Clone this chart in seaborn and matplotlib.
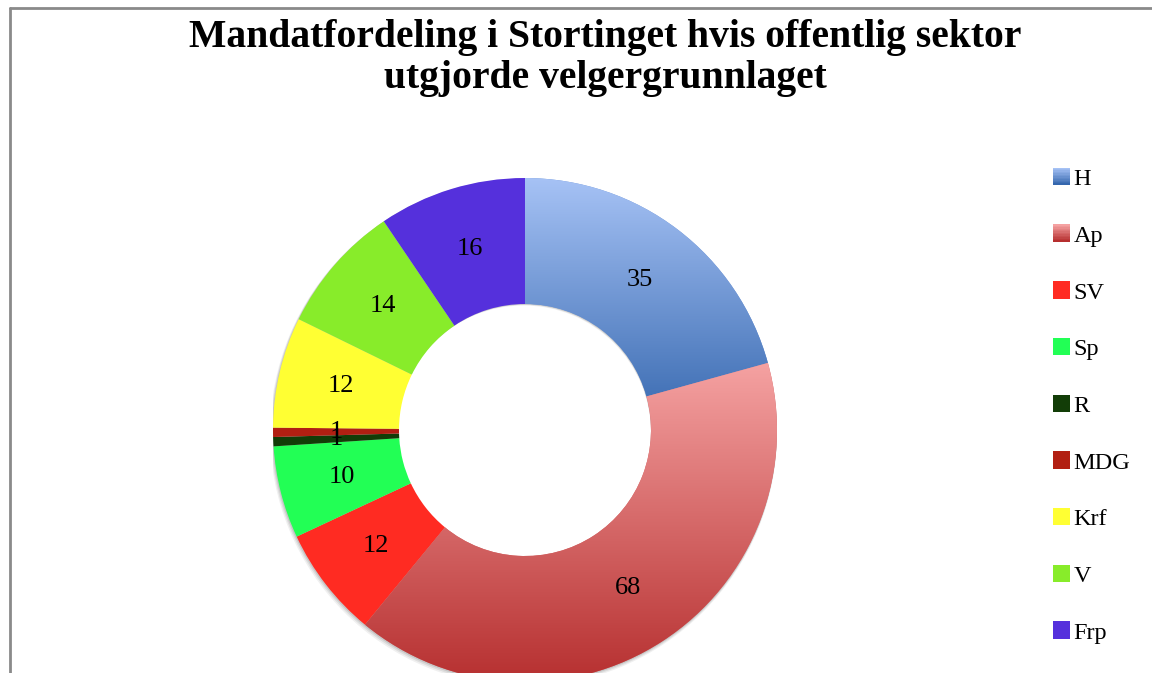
import numpy as np
import matplotlib
matplotlib.use("Agg")
import matplotlib.pyplot as plt
import seaborn as sns
from matplotlib.lines import Line2D
from matplotlib.patches import Rectangle, Wedge
from matplotlib.legend_handler import HandlerBase
from matplotlib.colors import LinearSegmentedColormap, to_rgb

# ---- data ----
parties = ["H", "Ap", "SV", "Sp", "R", "MDG", "Krf", "V", "Frp"]
seats = [35, 68, 12, 10, 1, 1, 12, 14, 16]
colors = ["#6f95d6", "#d66a6a", "#ff2b22", "#22ff55", "#123d07",
          "#b21f12", "#ffff33", "#88ec2a", "#5530dc"]
gradients = {"H": ("#a6c2f5", "#3567ae"), "Ap": ("#f5a2a2", "#b62f2f")}
title_lines = ["Mandatfordeling i Stortinget hvis offentlig sektor",
               "utgjorde velgergrunnlaget"]

sns.set_theme(style="white")
plt.rcParams["font.family"] = ["Liberation Serif", "DejaVu Serif"]
plt.rcParams["text.color"] = "black"

W, H = 1152, 673
fig = plt.figure(figsize=(W / 100, H / 100), dpi=100)
fig.patch.set_facecolor("white")

# pie placement in pixels
cx, cy, R = 525, 430, 252
ax = fig.add_axes([(cx - R) / W, 1 - (cy + R) / H, 2 * R / W, 2 * R / H])

total = sum(seats)
wedges, texts, autotexts = ax.pie(
    seats, colors=colors, startangle=90, counterclock=False,
    wedgeprops=dict(width=0.5, linewidth=0),
    autopct=lambda p: f"{int(round(p * total / 100))}",
    pctdistance=0.75, textprops=dict(fontsize=19, color="black"))
ax.set_xlim(-1, 1)
ax.set_ylim(-1, 1)
ax.set_aspect("equal")
ax.axis("off")

# soft shadow behind the ring
for k, a in enumerate([0.10, 0.08, 0.06]):
    d = 0.004 * (k + 1)
    ax.add_patch(Wedge((-d * 0.5, -d), 1.0 + d * 0.5, 0, 360, width=0.5,
                       facecolor="black", alpha=a, edgecolor="none", zorder=0))

# gradient fills for H and Ap
for w, name in zip(wedges, parties):
    if name in gradients:
        c1, c2 = gradients[name]
        cmap = LinearSegmentedColormap.from_list(name, [c1, c2])
        path = w.get_patch_transform().transform_path(w.get_path())
        x0, y0 = path.vertices.min(axis=0)
        x1, y1 = path.vertices.max(axis=0)
        grad = np.linspace(0, 1, 256).reshape(-1, 1)
        im = ax.imshow(grad, cmap=cmap, extent=[x0, x1, y0, y1],
                       origin="upper", aspect="auto", zorder=w.get_zorder() + 0.1)
        im.set_clip_path(w)
for t in autotexts:
    t.set_zorder(5)
ax.set_xlim(-1, 1)
ax.set_ylim(-1, 1)


class HandlerGrad(HandlerBase):
    def __init__(self, c1, c2, n=12):
        super().__init__()
        self.c1, self.c2, self.n = np.array(to_rgb(c1)), np.array(to_rgb(c2)), n

    def create_artists(self, legend, orig_handle, xdescent, ydescent,
                       width, height, fontsize, trans):
        arts = []
        s = min(width, height)
        x0 = -xdescent + (width - s) / 2
        y0 = -ydescent + (height - s) / 2
        for i in range(self.n):
            f = i / (self.n - 1)
            col = self.c1 * (1 - f) + self.c2 * f
            r = Rectangle((x0, y0 + s - (i + 1) * s / self.n), s, s / self.n + 0.3,
                          facecolor=col, edgecolor="none", transform=trans)
            arts.append(r)
        return arts


class HandlerSquare(HandlerBase):
    def create_artists(self, legend, orig_handle, xdescent, ydescent,
                       width, height, fontsize, trans):
        s = min(width, height)
        x0 = -xdescent + (width - s) / 2
        y0 = -ydescent + (height - s) / 2
        r = Rectangle((x0, y0), s, s, facecolor=orig_handle.get_facecolor(),
                      edgecolor="none", transform=trans)
        return [r]


hmap = {}
for w, name in zip(wedges, parties):
    if name in gradients:
        hmap[w] = HandlerGrad(*gradients[name])
    else:
        hmap[w] = HandlerSquare()

leg = fig.legend(wedges, parties, loc="upper left",
                 bbox_to_anchor=(1053 / W, 1 - 168 / H),
                 frameon=False, fontsize=17.5, handler_map=hmap,
                 handlelength=0.72, handleheight=0.72, handletextpad=0.13,
                 labelspacing=1.42, borderpad=0, borderaxespad=0)
for t in leg.get_texts():
    t.set_color("black")

for line, yb in zip(title_lines, [47, 88]):
    fig.text(605 / W, 1 - yb / H, line, ha="center", va="baseline",
             fontsize=28.5, fontweight="bold", color="black")

# chart border (gray frame)
fig.add_artist(Line2D([9.5 / W, 9.5 / W], [1 - 7.5 / H, 0], color="#8a8a8a", lw=2,
                      transform=fig.transFigure))
fig.add_artist(Line2D([9.5 / W, 1], [1 - 7.5 / H, 1 - 7.5 / H], color="#8a8a8a", lw=2,
                      transform=fig.transFigure))

fig.savefig("out.png", dpi=100, facecolor="white")
